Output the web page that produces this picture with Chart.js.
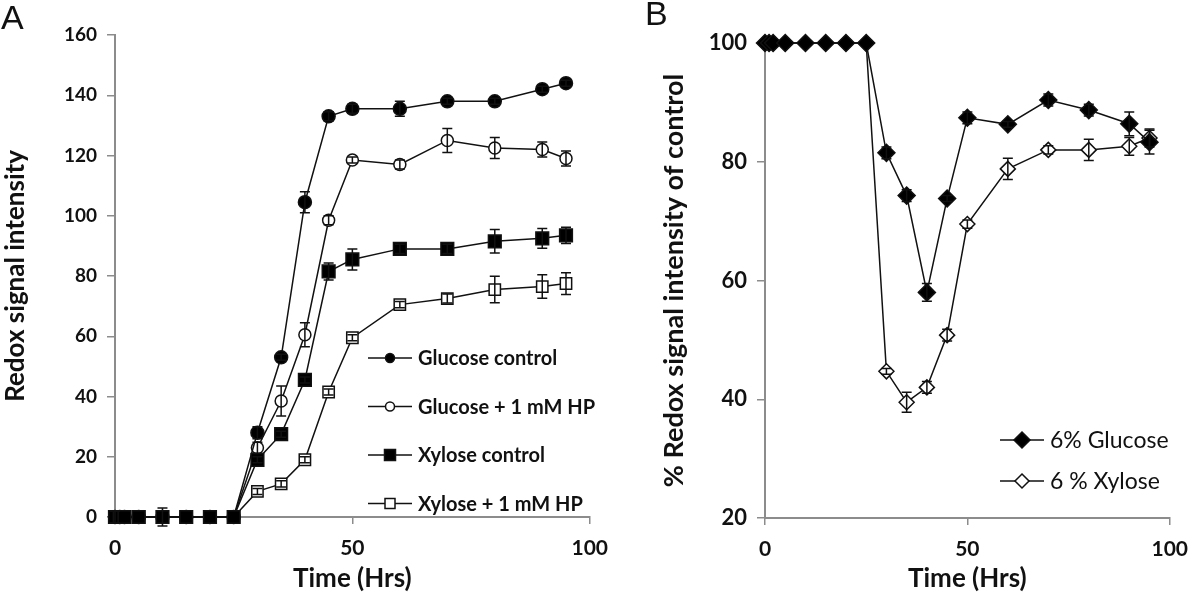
<!DOCTYPE html>
<html>
<head>
<meta charset="utf-8">
<title>Redox signal intensity</title>
<script src="https://cdn.jsdelivr.net/npm/chart.js@4.4.1/dist/chart.umd.min.js"></script>
<style>
  html, body { margin: 0; padding: 0; background: #fff; }
  #wrap { position: relative; width: 1200px; height: 597px; overflow: hidden; }
  #chart-a { position: absolute; left: 0; top: 0; }
  #chart-b { position: absolute; left: 620px; top: 0; }
  .panel {
    position: absolute;
    font-family: "Liberation Sans", Arial, sans-serif;
    font-size: 34px;
    line-height: 1;
    color: #111;
  }
</style>
</head>
<body>
<div id="wrap">
  <canvas id="chart-a" width="620" height="597"></canvas>
  <canvas id="chart-b" width="580" height="597"></canvas>
  <div class="panel" style="left:1px; top:0px;">A</div>
  <div class="panel" style="left:645px; top:-4px;">B</div>
</div>
<script>
// Zeitpunkte (Stunden), gemeinsam für beide Panels
const times = [0, 1, 2, 5, 10, 15, 20, 25, 30, 35, 40, 45, 50, 60, 70, 80, 90, 95];

// Panel A: Redox-Signalintensität
const glucoseControl = [0, 0, 0, 0, 0, 0, 0, 0, 28, 53, 104.5, 133, 135.5, 135.5, 138, 138, 142, 144];
const glucoseControlErr = [0, 0, 0, 0, 0, 0, 0, 0, 2, 1, 3.5, 1.5, 1.5, 2.5, 1, 1, 1, 1];
const glucoseHP = [0, 0, 0, 0, 0, 0, 0, 0, 23, 38.5, 60.5, 98.5, 118.5, 117, 125, 122.5, 122, 119];
const glucoseHPErr = [0, 0, 0, 0, 0, 0, 0, 0, 1.8, 5, 4, 1.5, 1, 1.5, 4, 3.5, 2.5, 2.5];
const xyloseControl = [0, 0, 0, 0, 0, 0, 0, 0, 19, 27.5, 45.5, 81.5, 85.5, 89, 89, 91.5, 92.5, 93.5];
const xyloseControlErr = [2, 0, 0, 0, 3, 0, 0, 0, 1, 1, 1, 2.8, 3.5, 1.5, 1.5, 3.9, 3.3, 2.7];
const xyloseHP = [0, 0, 0, 0, 0, 0, 0, 0, 8.5, 11, 19, 41.5, 59.5, 70.5, 72.5, 75.5, 76.5, 77.5];
const xyloseHPErr = [0, 0, 0, 0, 0, 0, 0, 0, 1, 1, 1, 1, 1, 1, 1.5, 4.4, 3.9, 3.6];

// Panel B: % der Kontrolle
const glucosePct = [100, 100, 100, 100, 100, 100, 100, 100, 81.5, 74.3, 58, 73.8, 87.4, 86.3, 90.4, 88.7, 86.4, 83.3];
const glucosePctErr = [0, 0, 0, 0, 0, 0, 0, 0, 1, 1, 1.5, 0.5, 1, 0.5, 1, 1, 2, 2];
const xylosePct = [100, 100, 100, 100, 100, 100, 100, 100, 44.7, 39.5, 42, 50.8, 69.5, 78.8, 82, 82, 82.6, 84];
const xylosePctErr = [0, 0, 0, 0, 0, 0, 0, 0, 0.5, 1.7, 1, 1, 0.7, 1.8, 0.7, 1.8, 1.5, 1.5];

// Achsen-Ticks
const xTicks = [0, 50, 100];
const yTicksA = [0, 20, 40, 60, 80, 100, 120, 140, 160];
const yTicksB = [20, 40, 60, 80, 100];

const INK = '#111111';
const AXIS = '#8c8c8c';
const FONT = 'Lato, "Open Sans", sans-serif';

function points(values) {
  return values.map((v, i) => ({ x: times[i], y: v }));
}

function series(label, values, errors, style, radius, filled) {
  return {
    label: label,
    data: points(values),
    errors: errors,
    borderColor: INK,
    borderWidth: 1.5,
    pointStyle: style,
    pointRadius: radius,
    pointHoverRadius: radius,
    pointBackgroundColor: filled ? '#000' : '#fff',
    pointBorderColor: INK,
    pointBorderWidth: 1.5,
    tension: 0,
    clip: false,
  };
}

// Fehlerbalken: senkrecht ± Fehler, mit Querstrich
const errorBars = {
  id: 'errorBars',
  afterDatasetsDraw(chart) {
    const { ctx, scales } = chart;
    ctx.save();
    ctx.strokeStyle = INK;
    ctx.lineWidth = 1.5;
    chart.data.datasets.forEach((ds) => {
      if (!ds.errors) return;
      ds.data.forEach((p, j) => {
        const e = ds.errors[j];
        if (!e) return;
        const x = scales.x.getPixelForValue(p.x);
        const top = scales.y.getPixelForValue(p.y + e);
        const bot = scales.y.getPixelForValue(p.y - e);
        ctx.beginPath();
        ctx.moveTo(x, top); ctx.lineTo(x, bot);
        ctx.moveTo(x - 5, top); ctx.lineTo(x + 5, top);
        ctx.moveTo(x - 5, bot); ctx.lineTo(x + 5, bot);
        ctx.stroke();
      });
    });
    ctx.restore();
  },
};

function marker(ctx, style, x, y, r, filled) {
  ctx.beginPath();
  if (style === 'circle') {
    ctx.arc(x, y, r, 0, Math.PI * 2);
  } else if (style === 'rect') {
    ctx.rect(x - r, y - r, 2 * r, 2 * r);
  } else {
    ctx.moveTo(x, y - r); ctx.lineTo(x + r, y); ctx.lineTo(x, y + r); ctx.lineTo(x - r, y);
    ctx.closePath();
  }
  ctx.fillStyle = filled ? '#000' : '#fff';
  ctx.fill();
  ctx.stroke();
}

// Legende innerhalb der Zeichenfläche, wie im Original
function insideLegend(entries, opts) {
  return {
    id: 'insideLegend',
    afterDraw(chart) {
      const { ctx, chartArea } = chart;
      ctx.save();
      ctx.strokeStyle = INK;
      ctx.lineWidth = 1.5;
      ctx.font = opts.font;
      ctx.textBaseline = 'middle';
      entries.forEach((e, i) => {
        const x0 = chartArea.left + opts.x;
        const y = chartArea.top + opts.y + i * opts.gap;
        ctx.beginPath();
        ctx.moveTo(x0, y); ctx.lineTo(x0 + opts.len, y);
        ctx.stroke();
        marker(ctx, e.style, x0 + opts.len / 2, y, e.r, e.filled);
        ctx.fillStyle = INK;
        ctx.fillText(e.text, x0 + opts.len + 6, y + 1);
      });
      ctx.restore();
    },
  };
}

function options(cfg) {
  return {
    responsive: false,
    animation: false,
    events: [],
    layout: { padding: cfg.padding },
    plugins: { legend: { display: false }, tooltip: { enabled: false } },
    scales: {
      x: {
        type: 'linear',
        min: 0,
        max: 100,
        afterBuildTicks: (axis) => { axis.ticks = xTicks.map((v) => ({ value: v })); },
        afterFit: (axis) => { axis.height = cfg.xHeight; },
        ticks: { color: INK, font: { family: FONT, size: cfg.xTickSize, weight: 'bold' }, padding: cfg.xTickPad, maxRotation: 0 },
        grid: { drawOnChartArea: false, drawTicks: true, tickLength: 7, color: AXIS, lineWidth: 1.5 },
        border: { color: AXIS, width: 2 },
        title: { display: true, text: 'Time (Hrs)', color: INK, font: { family: FONT, size: 26, weight: 'bold' }, padding: { top: 0, bottom: 3 } },
      },
      y: {
        type: 'linear',
        min: cfg.yMin,
        max: cfg.yMax,
        afterBuildTicks: (axis) => { axis.ticks = cfg.yTicks.map((v) => ({ value: v })); },
        afterFit: (axis) => { axis.width = cfg.yWidth; },
        ticks: { color: INK, font: { family: FONT, size: cfg.yTickSize, weight: 'bold' }, padding: 10 },
        grid: { drawOnChartArea: false, drawTicks: true, tickLength: 8, color: AXIS, lineWidth: 1.5 },
        border: { color: AXIS, width: 2 },
        title: { display: true, text: cfg.yTitle, color: INK, font: { family: FONT, size: cfg.yTitleSize, weight: 'bold' }, padding: { top: cfg.yTitlePad, bottom: 0 } },
      },
    },
  };
}

// Chart.js zeichnet den ersten Datensatz zuoberst
new Chart(document.getElementById('chart-a'), {
  type: 'line',
  data: {
    datasets: [
      series('Xylose control', xyloseControl, xyloseControlErr, 'rect', 9, true),
      series('Glucose control', glucoseControl, glucoseControlErr, 'circle', 6.5, true),
      series('Glucose + 1 mM HP', glucoseHP, glucoseHPErr, 'circle', 6, false),
      series('Xylose + 1 mM HP', xyloseHP, xyloseHPErr, 'rect', 8, false),
    ],
  },
  options: options({
    padding: { top: 35, right: 25, left: 0, bottom: 0 },
    xHeight: 80, yWidth: 115,
    yMin: 0, yMax: 160, yTicks: yTicksA,
    xTickSize: 21, xTickPad: 12, yTickSize: 19,
    yTitle: 'Redox signal intensity', yTitleSize: 26, yTitlePad: 0,
  }),
  plugins: [
    errorBars,
    insideLegend([
      { text: 'Glucose control', style: 'circle', r: 4.5, filled: true },
      { text: 'Glucose + 1 mM HP', style: 'circle', r: 4.5, filled: false },
      { text: 'Xylose control', style: 'rect', r: 5.5, filled: true },
      { text: 'Xylose + 1 mM HP', style: 'rect', r: 5, filled: false },
    ], { x: 253, y: 323, gap: 48.5, len: 44, font: 'bold 20px ' + FONT }),
  ],
});

new Chart(document.getElementById('chart-b'), {
  type: 'line',
  data: {
    datasets: [
      series('6% Glucose', glucosePct, glucosePctErr, 'rectRot', 8.5, true),
      series('6 % Xylose', xylosePct, xylosePctErr, 'rectRot', 7.5, false),
    ],
  },
  options: options({
    padding: { top: 43, right: 22, left: 0, bottom: 0 },
    xHeight: 79, yWidth: 145,
    yMin: 20, yMax: 100, yTicks: yTicksB,
    xTickSize: 21, xTickPad: 12, yTickSize: 22,
    yTitle: '% Redox signal intensity of control', yTitleSize: 27, yTitlePad: 38,
  }),
  plugins: [
    errorBars,
    insideLegend([
      { text: '6% Glucose', style: 'diamond', r: 8, filled: true },
      { text: '6 % Xylose', style: 'diamond', r: 7, filled: false },
    ], { x: 235, y: 397, gap: 41, len: 44, font: '23px ' + FONT }),
  ],
});
</script>
</body>
</html>
